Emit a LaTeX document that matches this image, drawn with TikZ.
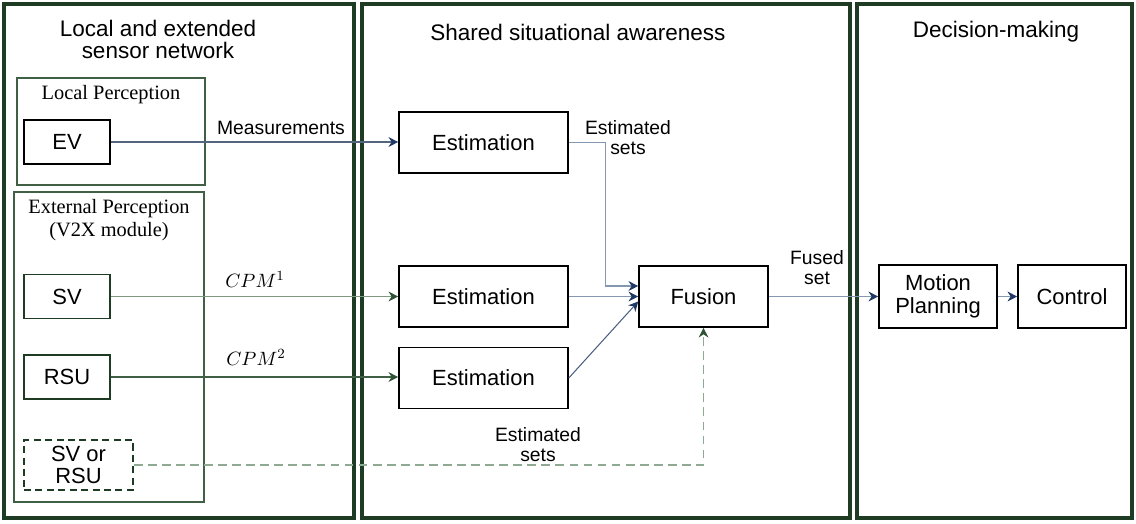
\documentclass[tikz,border=0pt]{standalone}
\usepackage{fontspec}
\setmainfont{Liberation Sans}
\newfontfamily\perceptionfont{Liberation Serif}
\usepackage{tikz}
\usetikzlibrary{arrows.meta, calc, positioning}
\definecolor{panelgreen}{HTML}{1E3B23}
\definecolor{groupgreen}{HTML}{3F6045}
\definecolor{navy}{HTML}{1F3864}
\definecolor{slate}{HTML}{53657F}
\definecolor{steel}{HTML}{8497B0}
\definecolor{tipgreen}{HTML}{2E5233}
\definecolor{sage}{HTML}{7D9A80}
\definecolor{pale}{HTML}{8FAA93}
\tikzset{%
    panel/.style={%
        draw=panelgreen,
        line width=2.3pt,
    },
    group/.style={%
        draw=groupgreen,
        line width=0.8pt,
    },
    title/.style={%
        font=\fontsize{12.8}{12.5}\selectfont,
        align=center,
        inner sep=0pt,
    },
    grouplabel/.style={%
        font=\perceptionfont\fontsize{11.6}{13}\selectfont,
        align=center,
        inner sep=0pt,
    },
    lbl/.style={%
        font=\fontsize{11}{11.3}\selectfont,
        align=center,
        inner sep=0pt,
    },
    block/.style={%
        rectangle,
        draw=black,
        line width=0.9pt,
        font=\fontsize{12.5}{13}\selectfont,
        align=center,
        inner sep=0pt,
    },
    sensor/.style={%
        block,
        draw=panelgreen,
        minimum width=1.72cm,
        minimum height=0.88cm,
    },
    estim/.style={%
        block,
        minimum width=3.38cm,
        minimum height=1.22cm,
    },
    edge/.style={%
        -{Stealth[length=5.5pt, width=5.5pt, color=navy]},
        line width=0.6pt,
        draw=steel,
    },
    greenedge/.style={%
        -{Stealth[length=5.5pt, width=5.5pt, color=tipgreen]},
        line width=0.6pt,
        draw=sage,
    },
}

\begin{document}
\begin{tikzpicture}[x=0.02cm, y=-0.02cm]
	\useasboundingbox (0,0) rectangle (1136,524);

	% three panels
	\draw[panel] (4,4) rectangle (354,518);
	\draw[panel] (362,4) rectangle (850,518);
	\draw[panel] (857,4) rectangle (1132,518);

	\node[title] at (158,39) (title_sensor) {Local and extended\\sensor network};
	\node[title] at (578,32) (title_ssa) {Shared situational awareness};
	\node[title] at (996,32) (title_dm) {Decision-making};

	% perception groups
	\draw[group] (17,78) rectangle (205,185);
	\draw[group] (14,192) rectangle (204,502);
	\node[grouplabel] at (111,95) (local_lbl) {Local Perception};
	\node[grouplabel] at (109,220.5) (ext_lbl) {External Perception\\(V2X module)};

	\node[sensor, draw=black] at (67,142) (ev) {EV};
	\node[sensor] at (67,296.5) (sv) {SV};
	\node[sensor] at (67,377) (rsu) {RSU};
	\node[sensor, dashed, dash pattern=on 4pt off 2.5pt, minimum width=2.18cm, minimum height=1cm] at (78.5,465) (sv_rsu) {SV or\\RSU};

	\node[estim] at (483.5,142.5) (est1) {Estimation};
	\node[estim] at (483.5,296.5) (est2) {Estimation};
	\node[estim] at (483.5,378) (est3) {Estimation};
	\node[block, minimum width=2.58cm, minimum height=1.22cm] at (703.5,296.5) (fusion) {Fusion};
	\node[block, minimum width=2.36cm, minimum height=1.26cm] at (938,296.5) (motion) {Motion\\Planning};
	\node[block, minimum width=2.16cm, minimum height=1.26cm] at (1072,296.5) (control) {Control};

	\node[lbl] at (281,128) (meas_lbl) {Measurements};
	\node[lbl] at (255,279) (cpm1_lbl) {$CPM^1$};
	\node[lbl] at (256,357) (cpm2_lbl) {$CPM^2$};
	\node[lbl] at (628,138) (est_lbl) {Estimated\\sets};
	\node[lbl] at (538,445) (ext_est_lbl) {Estimated\\sets};
	\node[lbl] at (817,268) (fused_lbl) {Fused\\set};

	\draw[edge, draw=slate] (ev.east) -- (ev.east -| est1.west);
	\draw[greenedge] (sv.east) -- (sv.east -| est2.west);
	\draw[greenedge, draw=groupgreen] (rsu.east) -- (rsu.east -| est3.west);

	\draw[edge] (est1.east) -- ++(37,0) |- ($(fusion.west)+(0,-10.5)$);
	\draw[edge] (est2.east) -- (est2.east -| fusion.west);
	\draw[edge, draw=navy!80] (est3.east) -- ($(fusion.west)+(0,5)$);
	\draw[greenedge, draw=pale, dash pattern=on 5pt off 3pt] (sv_rsu.east) -| (fusion.south);

	\draw[edge] (fusion) -- (motion);
	\draw[edge] (motion) -- (control);
\end{tikzpicture}
\end{document}
